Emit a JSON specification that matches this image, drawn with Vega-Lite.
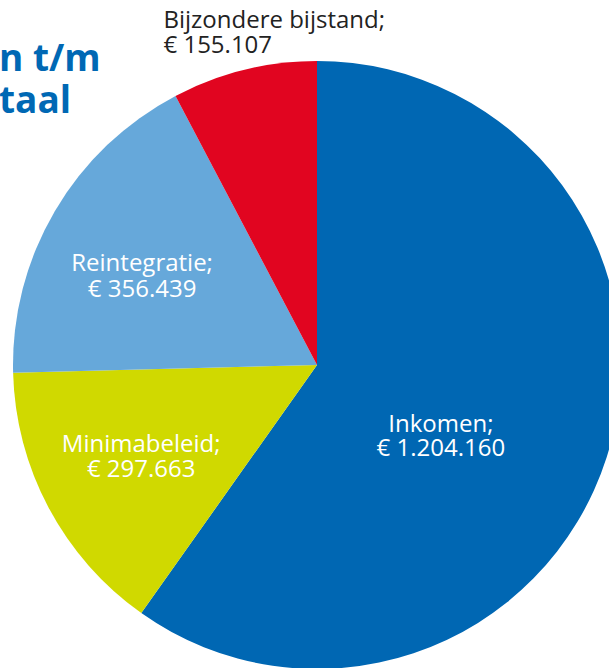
{
  "$schema": "https://vega.github.io/schema/vega-lite/v6.json",
  "width": 634,
  "height": 730,
  "autosize": {"type": "none"},
  "padding": {"left": 0, "top": 0, "right": -25, "bottom": -62},
  "background": "white",
  "view": {"stroke": null},
  "title": {
    "text": ["n t/m", "taal"],
    "anchor": "start",
    "orient": "top",
    "frame": "group",
    "offset": -150,
    "baseline": "alphabetic",
    "lineHeight": 42,
    "font": "Open Sans",
    "fontSize": 37,
    "fontWeight": "bold",
    "color": "#0068b4",
    "dx": -1
  },
  "data": {
    "values": [
      {"cat": "Inkomen", "ord": 1, "value": 1204160, "label": "Inkomen;\n€ 1.204.160"},
      {"cat": "Minimabeleid", "ord": 2, "value": 297663, "label": "Minimabeleid;\n€ 297.663"},
      {"cat": "Reintegratie", "ord": 3, "value": 356439, "label": "Reintegratie;\n€ 356.439"},
      {"cat": "Bijzondere bijstand", "ord": 4, "value": 155107, "label": "Bijzondere bijstand;\n€ 155.107"}
    ]
  },
  "encoding": {
    "theta": {"field": "value", "type": "quantitative", "stack": true},
    "order": {"field": "ord", "type": "quantitative"}
  },
  "layer": [
    {
      "mark": {"type": "arc", "outerRadius": 304},
      "encoding": {
        "color": {
          "field": "cat",
          "type": "nominal",
          "scale": {
            "domain": ["Inkomen", "Minimabeleid", "Reintegratie", "Bijzondere bijstand"],
            "range": ["#0067b3", "#d0d900", "#66a8da", "#e10520"]
          },
          "legend": null
        }
      }
    },
    {
      "mark": {"type": "text", "radius": 150, "dx": -19, "dy": 22, "align": "center", "baseline": "alphabetic", "lineBreak": "\n", "lineHeight": 24, "font": "Open Sans", "fontSize": 24, "color": "white"},
      "encoding": {
        "text": {"condition": {"test": "datum.cat === 'Inkomen'", "field": "label"}, "value": ""}
      }
    },
    {
      "mark": {"type": "text", "radius": 197, "dx": -2, "dy": -6, "align": "center", "baseline": "alphabetic", "lineBreak": "\n", "lineHeight": 25, "font": "Open Sans", "fontSize": 24, "color": "white"},
      "encoding": {
        "text": {"condition": {"test": "datum.cat === 'Minimabeleid'", "field": "label"}, "value": ""}
      }
    },
    {
      "mark": {"type": "text", "radius": 197, "dx": -5, "dy": 6, "align": "center", "baseline": "alphabetic", "lineBreak": "\n", "lineHeight": 26, "font": "Open Sans", "fontSize": 24, "color": "white"},
      "encoding": {
        "text": {"condition": {"test": "datum.cat === 'Reintegratie'", "field": "label"}, "value": ""}
      }
    },
    {
      "mark": {"type": "text", "radius": 336, "dx": -73, "dy": -11, "align": "left", "baseline": "alphabetic", "lineBreak": "\n", "lineHeight": 25, "font": "Open Sans", "fontSize": 24, "color": "#222222"},
      "encoding": {
        "text": {"condition": {"test": "datum.cat === 'Bijzondere bijstand'", "field": "label"}, "value": ""}
      }
    }
  ]
}
